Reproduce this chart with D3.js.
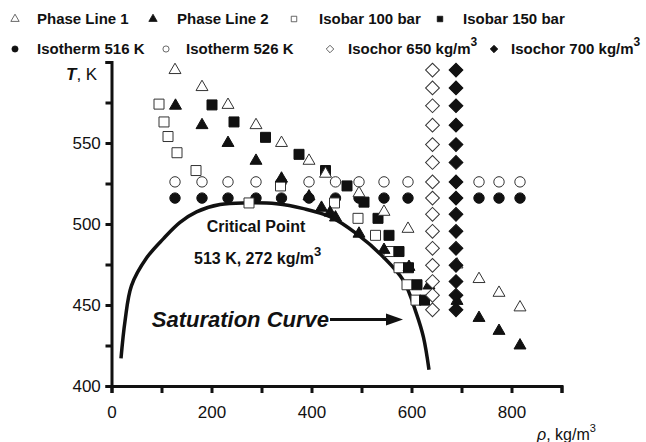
<!DOCTYPE html>
<html>
<head>
<meta charset="utf-8">
<script src="https://cdn.jsdelivr.net/npm/d3@7"></script>
<style>
  body { margin: 0; background: #fff; }
  text { font-family: "Liberation Sans", Arial, sans-serif; fill: #111; }
</style>
</head>
<body>
<svg id="chart" width="646" height="442"></svg>
<script>
// data: rho in kg/m3, T in K
var phaseLine1 = [[127,595],[181,584.5],[233,573.5],[289,561],[340,550],[395,539],[428,531],[495,519],
                  [545,507.5],[593,497],[691,475],[735,466],[775,457.5],[817,448.5]];
var phaseLine2 = [[128,573],[181,561],[233,550],[289,539],[340,528],[395,517],[420,510],[437,507],
                  [448,504],[495,494],[545,484],[595,473.5],[635,462],[691,452.5],[735,442],[775,434],[817,425]];
var isobar100 = [[95,574],[105,563],[113,554],[131,544],[169,533],[275,513],[338,523.5],[446,513],
                 [493,503.5],[528,493],[555,483],[575,473],[591,462.5],[609,453]];
var isobar150 = [[201,573.5],[245,563],[308,553.5],[375,543],[428,533],[471,523.5],[505,513.5],
                 [533,503.5],[555,493],[575,483],[594,473],[611,462.5],[626,453]];
var isothermRho = [127,181,233,289,340,395,448,495,545,593,735,775,817];
var isochorT = [595,584,573,561,549,538,526,516,506,495.5,485,474.5,464.5,456,447];
var saturation = [[19,417],[27,440],[40,462],[70,479],[104,491],[137,501],[170,507.5],[217,512],
                  [270,513],[330,512.5],[384,509.5],[437,504.5],[490,494],[544,479.5],[584,465],
                  [610,444.5],[624,430],[635,410]];
var xTicks = [0,200,400,600,800];
var yTicks = [400,450,500,550];

var svg = d3.select("#chart");
var x = d3.scaleLinear().domain([0, 900]).range([111.5, 561.5]);
var y = d3.scaleLinear().domain([400, 600]).range([386, 62]);

// axes
var xAxis = d3.axisBottom(x).tickValues(d3.range(0, 901, 100)).tickSize(7)
  .tickFormat(function(d) { return xTicks.indexOf(d) >= 0 ? d : ""; });
var gx = svg.append("g").attr("transform", "translate(0," + y(400) + ")").call(xAxis);
var yAxis = d3.axisLeft(y).tickValues(d3.range(400, 601, 25)).tickSize(6)
  .tickFormat(function(d) { return yTicks.indexOf(d) >= 0 ? d : ""; });
var gy = svg.append("g").attr("transform", "translate(" + x(0) + ",0)").call(yAxis);
[gx, gy].forEach(function(g) {
  g.select(".domain").attr("stroke", "#111").attr("stroke-width", 3);
  g.selectAll(".tick line").attr("stroke", "#111").attr("stroke-width", 3);
  g.selectAll(".tick text").style("font-size", "17px").attr("fill", "#222");
});
gx.selectAll(".tick text").attr("dy", "1.3em");
gy.selectAll(".tick text").attr("dx", "-0.1em");

svg.append("text").attr("x", 66).attr("y", 80).style("font-size", "17px")
  .html('<tspan font-weight="bold" font-style="italic">T</tspan>, K');
svg.append("text").attr("x", 537).attr("y", 440).style("font-size", "16px")
  .html('<tspan font-style="italic">ρ</tspan>, kg/m<tspan dy="-8" font-size="11px">3</tspan>');

// saturation curve
svg.append("path").datum(saturation)
  .attr("d", d3.line().x(function(d) { return x(d[0]); }).y(function(d) { return y(d[1]); })
    .curve(d3.curveCatmullRom))
  .attr("fill", "none").attr("stroke", "#111").attr("stroke-width", 3.5);

// annotations
svg.append("text").attr("x", x(289)).attr("y", y(498.5)).attr("text-anchor", "middle")
  .attr("dy", "0.35em").style("font-size", "16px").style("font-weight", "bold").text("Critical Point");
svg.append("text").attr("x", x(165)).attr("y", y(478.7)).attr("dy", "0.35em")
  .style("font-size", "16px").style("font-weight", "bold")
  .html('513 K, 272 kg/m<tspan dy="-8" font-size="13px">3</tspan>');
svg.append("text").attr("x", x(435)).attr("y", y(441)).attr("dy", "0.35em").attr("text-anchor", "end")
  .style("font-size", "22px").style("font-weight", "bold").style("font-style", "italic")
  .text("Saturation Curve");
svg.append("line").attr("x1", x(437)).attr("x2", x(565)).attr("y1", y(441)).attr("y2", y(441))
  .attr("stroke", "#111").attr("stroke-width", 3);
svg.append("path")
  .attr("d", "M" + x(583) + "," + y(441) + "l-17,-6l0,12z").attr("fill", "#111");

// markers
var tri = d3.symbol().type(d3.symbolTriangle).size(62);
var sq = d3.symbol().type(d3.symbolSquare).size(100);
var circ = d3.symbol().type(d3.symbolCircle).size(85);
var dia = d3.symbol().type(d3.symbolSquare).size(95);

function draw(data, sym, filled, rot) {
  svg.append("g").selectAll("path").data(data).join("path")
    .attr("d", sym)
    .attr("transform", function(d) {
      return "translate(" + x(d[0]) + "," + y(d[1]) + ")" + (rot ? " rotate(45)" : "");
    })
    .attr("fill", filled ? "#111" : "#fff")
    .attr("stroke", filled ? "#111" : "#333")
    .attr("stroke-width", 1);
}
draw(isothermRho.map(function(r) { return [r, 526]; }), circ, false);
draw(isothermRho.map(function(r) { return [r, 516]; }), circ, true);
draw(isobar100, sq, false);
draw(isobar150, sq, true);
draw(phaseLine1, tri, false);
draw(phaseLine2, tri, true);
draw(isochorT.map(function(t) { return [642, t]; }), dia, false, true);
draw(isochorT.map(function(t) { return [689, t]; }), dia, true, true);

// legend
var legendRows = [
  [["Phase Line 1", d3.symbolTriangle, false, 15, 37], ["Phase Line 2", d3.symbolTriangle, true, 153, 177],
   ["Isobar 100 bar", d3.symbolSquare, false, 294, 319], ["Isobar 150 bar", d3.symbolSquare, true, 440, 463]],
  [["Isotherm 516 K", d3.symbolCircle, true, 15, 37], ["Isotherm 526 K", d3.symbolCircle, false, 166, 186],
   ["Isochor 650 kg/m", "dia", false, 330, 348], ["Isochor 700 kg/m", "dia", true, 494, 511]]
];
legendRows.forEach(function(row, i) {
  var ly = 19 + i * 30;
  row.forEach(function(it) {
    var s = it[1] === "dia" ? d3.symbol().type(d3.symbolSquare).size(28) : d3.symbol().type(it[1]).size(30);
    svg.append("path").attr("d", s)
      .attr("transform", "translate(" + it[3] + "," + ly + ")" + (it[1] === "dia" ? " rotate(45)" : ""))
      .attr("fill", it[2] ? "#111" : "#fff").attr("stroke", it[2] ? "#111" : "#444").attr("stroke-width", 0.8);
    var t = svg.append("text").attr("x", it[4]).attr("y", ly).attr("dy", "0.35em")
      .style("font-size", "15px").style("font-weight", "bold");
    if (it[1] === "dia") t.html(it[0] + '<tspan dy="-8" font-size="12px">3</tspan>');
    else t.text(it[0]);
  });
});
</script>
</body>
</html>
